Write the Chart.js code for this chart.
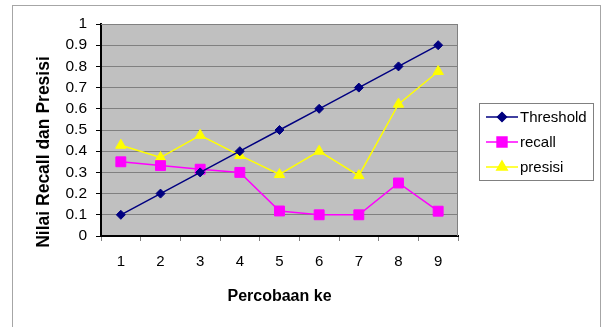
<!DOCTYPE html>
<html>
<head>
<meta charset="utf-8">
<script src="https://cdn.jsdelivr.net/npm/chart.js@4.4.1/dist/chart.umd.min.js"></script>
<style>
  body { margin: 0; background: #fff; }
  canvas { display: block; }
</style>
</head>
<body>
<canvas id="chart" width="602" height="327"></canvas>
<script>
// Chart data
const categories = ["1", "2", "3", "4", "5", "6", "7", "8", "9"];
const threshold = [0.1, 0.2, 0.3, 0.4, 0.5, 0.6, 0.7, 0.8, 0.9];
const recall = [0.35, 0.332, 0.315, 0.30, 0.118, 0.10, 0.10, 0.25, 0.117];
const presisi = [0.428, 0.37, 0.475, 0.38, 0.29, 0.40, 0.285, 0.622, 0.776];
const yTitle = "Nilai Recall dan Presisi";

const FONT = "'Liberation Sans', Arial, sans-serif";

// Plot background, frame, outer border and y title
const framePlugin = {
  id: "frame",
  beforeDraw(chart) {
    const { ctx, chartArea: a } = chart;
    ctx.save();
    ctx.strokeStyle = "#a6a6a6";
    ctx.lineWidth = 1;
    ctx.strokeRect(12.5, 5.5, 588, 340);
    ctx.fillStyle = "#c0c0c0";
    ctx.fillRect(a.left, a.top, a.right - a.left, a.bottom - a.top);
    // y axis title, centred a bit lower like the original
    ctx.translate(44, 152);
    ctx.rotate(-Math.PI / 2);
    ctx.font = "bold 17.5px " + FONT;
    ctx.fillStyle = "#000";
    ctx.textAlign = "center";
    ctx.textBaseline = "middle";
    ctx.fillText(yTitle, 0, 0);
    ctx.restore();
  },
  beforeDatasetsDraw(chart) {
    const { ctx, chartArea: a } = chart;
    ctx.save();
    ctx.strokeStyle = "#808080";
    ctx.lineWidth = 1;
    ctx.beginPath();
    ctx.moveTo(a.left, a.top + 0.5);
    ctx.lineTo(a.right - 0.5, a.top + 0.5);
    ctx.lineTo(a.right - 0.5, a.bottom);
    ctx.stroke();
    ctx.restore();
  }
};

// Legend with line + marker samples and a box
const legendPlugin = {
  id: "boxLegend",
  afterDraw(chart) {
    const { ctx } = chart;
    ctx.save();
    ctx.strokeStyle = "#808080";
    ctx.lineWidth = 1;
    ctx.strokeRect(479.5, 103.5, 114, 77);
    ctx.font = "15px " + FONT;
    ctx.textBaseline = "middle";
    ctx.textAlign = "left";
    chart.data.datasets.forEach((ds, i) => {
      const y = 117 + i * 25;
      ctx.strokeStyle = ds.borderColor;
      ctx.lineWidth = 1.5;
      ctx.beginPath();
      ctx.moveTo(486, y);
      ctx.lineTo(518, y);
      ctx.stroke();
      Chart.helpers.drawPoint(ctx, {
        pointStyle: ds.pointStyle,
        radius: ds.pointRadius,
        borderWidth: 1
      }, 502, y);
      ctx.fillStyle = ds.pointBackgroundColor;
      ctx.strokeStyle = ds.pointBorderColor;
      ctx.fill();
      ctx.fillStyle = "#000";
      ctx.fillText(ds.label, 520, y + 1);
    });
    ctx.restore();
  }
};

function series(label, data, color, style, radius) {
  return {
    label, data,
    borderColor: color,
    backgroundColor: color,
    pointBackgroundColor: color,
    pointBorderColor: color,
    borderWidth: 1.5,
    pointStyle: style,
    pointRadius: radius,
    pointBorderWidth: 1,
    tension: 0
  };
}

new Chart(document.getElementById("chart"), {
  type: "line",
  data: {
    labels: categories,
    datasets: [
      series("Threshold", threshold, "#000080", "rectRot", 4.5),
      series("recall", recall, "#ff00ff", "rect", 7),
      series("presisi", presisi, "#ffff00", "triangle", 6)
    ]
  },
  options: {
    responsive: false,
    animation: false,
    layout: { padding: { left: 30, top: 24, right: 144, bottom: 0 } },
    plugins: {
      legend: { display: false },
      tooltip: { enabled: false }
    },
    scales: {
      x: {
        offset: true,
        afterFit(scale) { scale.height = 91; },
        grid: {
          offset: true,
          drawOnChartArea: false,
          drawTicks: true,
          tickLength: 5,
          color: "#808080",
          tickColor: "#808080"
        },
        border: { display: true, color: "#000", width: 2 },
        ticks: {
          color: "#000",
          padding: 12,
          autoSkip: false,
          font: { family: FONT, size: 15 },
          maxRotation: 0
        },
        title: {
          display: true,
          text: "Percobaan ke",
          color: "#000",
          font: { family: FONT, size: 16, weight: "bold" },
          padding: { top: 0, bottom: 21 }
        }
      },
      y: {
        min: 0,
        max: 1,
        afterFit(scale) { scale.width = 71; },
        grid: {
          color: "#808080",
          tickColor: "#000",
          tickLength: 5,
          lineWidth: 1
        },
        border: { display: true, color: "#000", width: 2 },
        ticks: {
          stepSize: 0.1,
          autoSkip: false,
          color: "#000",
          padding: 9,
          font: { family: FONT, size: 15.5 },
          callback: v => String(Math.round(v * 10) / 10)
        },
        title: { display: false }
      }
    }
  },
  plugins: [framePlugin, legendPlugin]
});
</script>
</body>
</html>
